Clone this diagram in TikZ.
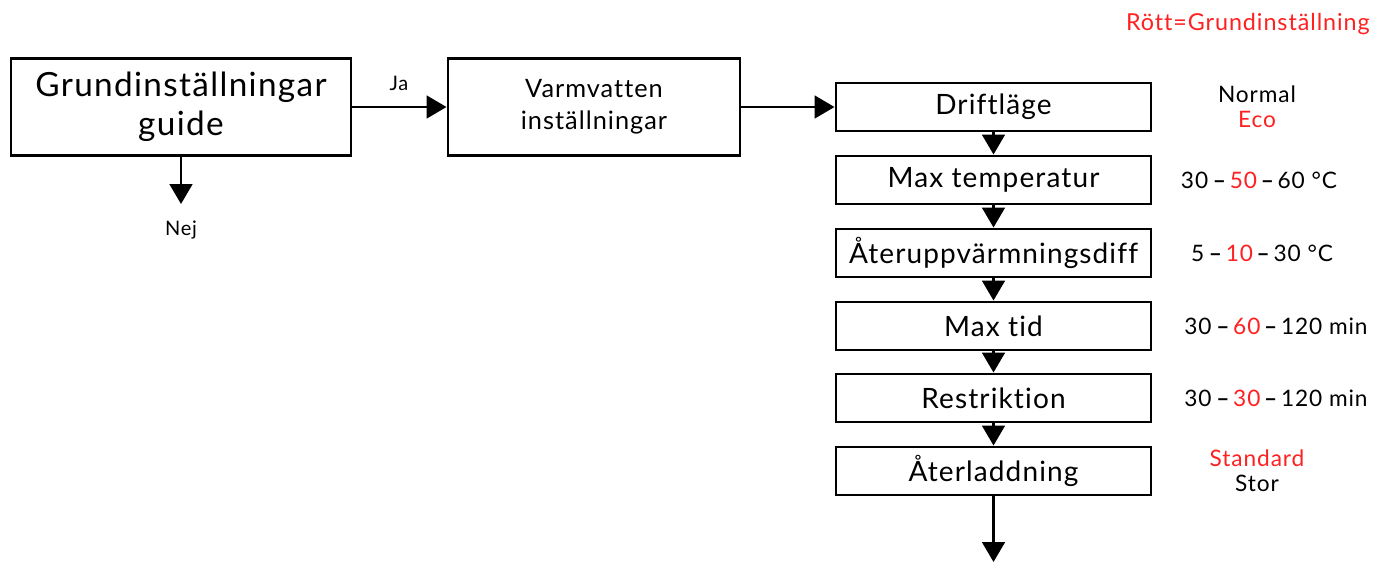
\documentclass[tikz,border=0pt]{standalone}
\usepackage{fontspec}
\setmainfont{Lato}[Ligatures=NoCommon, LetterSpace=4]
\usetikzlibrary{arrows.meta}
\definecolor{defred}{RGB}{255,32,32}
\tikzset{
  box/.style={draw, line width=2.2pt, rectangle, inner sep=0pt, align=center},
  bigbox/.style={box, minimum height={97*0.75pt}},
  stepbox/.style={box, minimum width={315*0.75pt}, minimum height={48*0.75pt}, font=\fontsize{21}{24}\selectfont},
  arr/.style={line width=2.2pt, -{Triangle[width=17pt,length=15pt]}},
  lbl/.style={inner sep=0pt, align=center},
  val/.style={lbl, font=\fontsize{17}{19}\selectfont},
}
\newcommand{\dd}{\textbf{\,--\,}}
\newcommand{\rd}[1]{\textcolor{defred}{#1}}
\begin{document}
\begin{tikzpicture}[x=0.75pt,y=-0.75pt]
\useasboundingbox (0,0) rectangle (1378,562);

% guide and hot water entry boxes
\node[bigbox, minimum width={340*0.75pt}, font=\fontsize{25}{29}\selectfont] (guide) at (181,107) {Grundinställningar\\guide};
\node[bigbox, minimum width={292*0.75pt}, font=\fontsize{19}{24}\selectfont] (hw) at (594,107) {Varmvatten\\inställningar};

% settings column
\node[stepbox] (s1) at (993.5,107) {Driftläge};
\node[stepbox] (s2) at (993.5,180) {Max temperatur};
\node[stepbox] (s3) at (993.5,253) {Återuppvärmningsdiff};
\node[stepbox] (s4) at (993.5,326) {Max tid};
\node[stepbox] (s5) at (993.5,398) {Restriktion};
\node[stepbox] (s6) at (993.5,471) {Återladdning};

% connectors
\draw[arr] (guide.east) -- (hw.west);
\node[lbl, font=\fontsize{15}{18}\selectfont] (ja) at (399,83) {Ja};
\coordinate (nejend) at (181,204);
\draw[arr] (guide.south) -- (nejend);
\node[lbl, font=\fontsize{15}{18}\selectfont] (nej) at (181,230) {Nej};
\draw[arr] (hw.east) -- (s1.west);
\draw[arr] (s1) -- (s2);
\draw[arr] (s2) -- (s3);
\draw[arr] (s3) -- (s4);
\draw[arr] (s4) -- (s5);
\draw[arr] (s5) -- (s6);
\coordinate (out) at (993.5,562);
\draw[arr] (s6.south) -- (out);

% value ranges, defaults in red
\node[val] (v1) at (1257,107) {Normal\\\rd{Eco}};
\node[val] (v2) at (1259,180) {30\dd\rd{50}\dd60 °C};
\node[val] (v3) at (1262,253) {5\dd\rd{10}\dd30 °C};
\node[val] (v4) at (1276,326) {30\dd\rd{60}\dd120 min};
\node[val] (v5) at (1276,398) {30\dd\rd{30}\dd120 min};
\node[val] (v6) at (1257,471) {\rd{Standard}\\Stor};

\node[lbl, anchor=east, font=\fontsize{17.5}{20}\selectfont, text=defred] (legend) at (1370,24) {Rött=Grundinställning};
\end{tikzpicture}
\end{document}
